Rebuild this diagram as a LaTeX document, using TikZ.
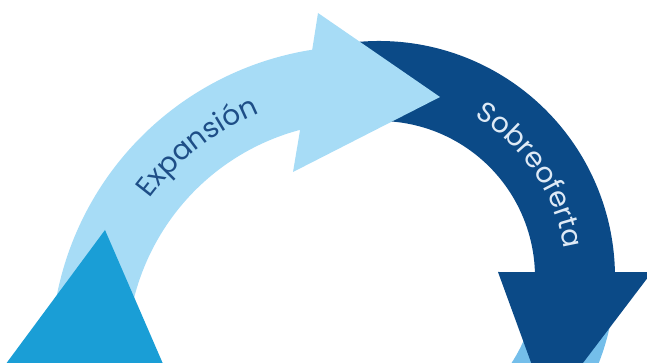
\documentclass[tikz,border=0pt]{standalone}
\usepackage{fontspec}
\setmainfont{Poppins}
\usetikzlibrary{decorations.text}
\definecolor{paleblue}{RGB}{167,220,246}
\definecolor{navyblue}{RGB}{11,74,135}
\definecolor{midblue}{RGB}{26,158,214}
\definecolor{skyblue}{RGB}{116,190,234}
\definecolor{inkdark}{RGB}{30,78,135}
\definecolor{inklight}{RGB}{222,234,246}
\tikzset{
    arclabel/.style 2 args={decorate, decoration={text along path, text align=center, text color=#1,
        text={|\fontsize{28}{30}\selectfont|#2}}}
}
\begin{document}
\begin{tikzpicture}[x=1pt, y=1pt]
            \useasboundingbox (0,0) rectangle (647,363);
            \clip (0,0) rectangle (647,363);
            \begin{scope}[shift={(379,86)}]
                \fill[skyblue] (-1:236) arc[start angle=-1, end angle=-50, radius=236]
                    -- (-50:158) arc[start angle=-50, end angle=-1, radius=158] -- cycle;
                \fill[navyblue] (100:236) arc[start angle=100, end angle=1.2, radius=236]
                    -- (273,5) -- (169,-132) -- (119,5)
                    -- (1.8:156) arc[start angle=1.8, end angle=100, radius=156] -- cycle;
            \end{scope}
            \begin{scope}[shift={(360,8)}]
                \fill[paleblue] (190:309) arc[start angle=190, end angle=98.9, radius=309]
                    -- (-42,342) -- (80,258) -- (-67,183)
                    -- (104.9:233) arc[start angle=104.9, end angle=190, radius=233] -- cycle;
                \path[arclabel={inkdark}{Expansión}] (158:262) arc[start angle=158, end angle=98, radius=262];
            \end{scope}
            \begin{scope}[shift={(379,86)}]
                \path[arclabel={inklight}{Sobreoferta}] (64:187) arc[start angle=64, end angle=4, radius=187];
            \end{scope}
            \fill[midblue] (105,133) -- (-6,-17) -- (170,-17) -- cycle;
        \end{tikzpicture}
\end{document}
